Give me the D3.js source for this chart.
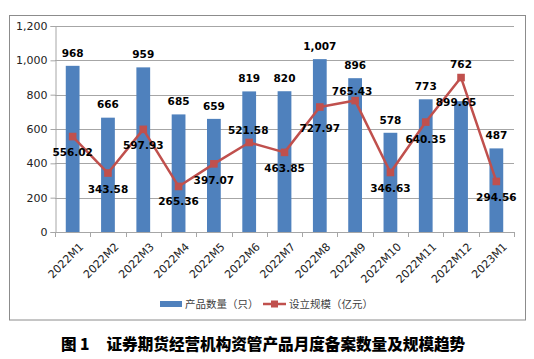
<!DOCTYPE html>
<html><head><meta charset="utf-8">
<script src="https://cdn.jsdelivr.net/npm/d3@7"></script>
<style>body{margin:0;background:#fff}svg{display:block}</style>
</head><body>
<svg id="c" width="534" height="359"></svg>
<script>
const categories = ["2022M1","2022M2","2022M3","2022M4","2022M5","2022M6","2022M7","2022M8","2022M9","2022M10","2022M11","2022M12","2023M1"];
const productCount = [968,666,959,685,659,819,820,1007,896,578,773,762,487];
const setupScale = [556.02,343.58,597.93,265.36,397.07,521.58,463.85,727.97,765.43,346.63,640.35,899.65,294.56];
const yTicks = [0,200,400,600,800,1000,1200];
const seriesNames = ["产品数量（只）","设立规模（亿元）"];
const captionLabel = "图 1";
const captionText = "证券期货经营机构资管产品月度备案数量及规模趋势";

const svg = d3.select("#c");
const plot = {left:55, right:514, top:26, bottom:232};
const BLUE = "#4F81BD", RED = "#C0504D", GRID = "#a6a6a6", TXT = "#404040";
const NUM_FONT = "DejaVu Sans, sans-serif";
const CJK_FONT = "'Noto Sans CJK SC', sans-serif";

// outer frame
svg.append("rect").attr("x",9.5).attr("y",15.5).attr("width",516).attr("height",304.5)
  .attr("fill","none").attr("stroke","#8c8c8c").attr("stroke-width",1);

const x = d3.scaleBand().domain(categories).range([plot.left, plot.right])
  .paddingInner(0.61).paddingOuter(0.305);
const y = d3.scaleLinear().domain([0,1200]).range([plot.bottom, plot.top]);
const cx = c => x(c) + x.bandwidth()/2;

// gridlines
svg.append("g").selectAll("line").data(yTicks.filter(d=>d>0)).join("line")
  .attr("x1",plot.left).attr("x2",plot.right)
  .attr("y1",d=>Math.round(y(d))+0.5).attr("y2",d=>Math.round(y(d))+0.5)
  .attr("stroke",GRID).attr("stroke-width",1);

// y axis
const yAxis = svg.append("g").attr("transform",`translate(${plot.left+0.5},0)`)
  .call(d3.axisLeft(y).tickValues(yTicks).tickFormat(d3.format(",")).tickSize(5).tickPadding(3));
yAxis.select(".domain").attr("stroke",GRID);
yAxis.selectAll(".tick line").attr("stroke",GRID);
yAxis.selectAll("text").attr("font-family",NUM_FONT).attr("font-size",11).attr("fill","#222");

// bars
svg.append("g").selectAll("rect").data(categories).join("rect")
  .attr("x",c=>x(c)).attr("width",x.bandwidth())
  .attr("y",(c,i)=>y(productCount[i])).attr("height",(c,i)=>y(0)-y(productCount[i]))
  .attr("fill",BLUE);

// x axis
const step = x.step(), gap = step - x.bandwidth();
const bounds = categories.map(c => x(c) - gap/2).concat([x(categories[categories.length-1]) + x.bandwidth() + gap/2]);
const xg = svg.append("g");
xg.append("line").attr("x1",plot.left).attr("x2",plot.right)
  .attr("y1",plot.bottom+0.5).attr("y2",plot.bottom+0.5).attr("stroke",GRID);
xg.selectAll("line.t").data(bounds).join("line").attr("class","t")
  .attr("x1",d=>Math.round(d)+0.5).attr("x2",d=>Math.round(d)+0.5)
  .attr("y1",plot.bottom).attr("y2",plot.bottom+5).attr("stroke",GRID);
xg.selectAll("text").data(categories).join("text")
  .attr("transform",c=>`translate(${cx(c)+6},${plot.bottom+10}) rotate(-45)`)
  .attr("text-anchor","end").attr("dy","0.7em")
  .attr("font-family",NUM_FONT).attr("font-size",11).attr("fill","#222")
  .text(c=>c);

// line
const line = d3.line().x((d,i)=>cx(categories[i])).y(d=>y(d));
svg.append("path").datum(setupScale).attr("d",line)
  .attr("fill","none").attr("stroke",RED).attr("stroke-width",2.5).attr("stroke-linejoin","round");
svg.append("g").selectAll("rect").data(setupScale).join("rect")
  .attr("x",(d,i)=>cx(categories[i])-3.8).attr("y",d=>y(d)-3.8)
  .attr("width",7.6).attr("height",7.6).attr("fill",RED);

// bar value labels (above the bar, or above the marker if it sits higher)
const fmt = d3.format(",");
svg.append("g").selectAll("text").data(productCount).join("text")
  .attr("x",(d,i)=>cx(categories[i]))
  .attr("y",(d,i)=>Math.min(y(d), y(setupScale[i])) - 13)
  .attr("dy","0.36em").attr("text-anchor","middle")
  .attr("font-family",NUM_FONT).attr("font-weight","bold").attr("font-size",10.5).attr("fill","#000")
  .text(d=>fmt(d));

// line value labels (manual nudges as in the reference)
const lblDy = [16,16,16,15,16,-12.6,16,21.6,-9.4,16,16.7,24.6,16];
const lblDx = [0,0,0,0,0,-1,0,0,-3,0,0,-5,0];
svg.append("g").selectAll("text").data(setupScale).join("text")
  .attr("x",(d,i)=>cx(categories[i]) + lblDx[i])
  .attr("y",(d,i)=>y(d) + lblDy[i])
  .attr("dy","0.36em").attr("text-anchor","middle")
  .attr("font-family",NUM_FONT).attr("font-weight","bold").attr("font-size",10.5).attr("fill","#000")
  .text(d=>d.toFixed(2));

// legend
const lg = svg.append("g");
lg.append("rect").attr("x",160).attr("y",301).attr("width",22).attr("height",6).attr("fill",BLUE);
lg.append("text").attr("x",185).attr("y",304).attr("dy","0.36em")
  .attr("font-family",CJK_FONT).attr("font-size",10.5).attr("fill",TXT).text(seriesNames[0]);
lg.append("line").attr("x1",263).attr("x2",286).attr("y1",304).attr("y2",304).attr("stroke",RED).attr("stroke-width",2.5);
lg.append("rect").attr("x",274.5-3.5).attr("y",304-3.5).attr("width",7).attr("height",7).attr("fill",RED);
lg.append("text").attr("x",289).attr("y",304).attr("dy","0.36em")
  .attr("font-family",CJK_FONT).attr("font-size",10.5).attr("fill",TXT).text(seriesNames[1]);

// caption
svg.append("text").attr("x",61).attr("y",344.5).attr("dy","0.36em")
  .attr("font-family",CJK_FONT).attr("font-weight",900).attr("font-size",15.5).attr("fill","#000")
  .text(captionLabel);
svg.append("text").attr("x",106.5).attr("y",344.5).attr("dy","0.36em")
  .attr("font-family",CJK_FONT).attr("font-weight",900).attr("font-size",15.6).attr("fill","#000")
  .text(captionText);
</script>
</body></html>
